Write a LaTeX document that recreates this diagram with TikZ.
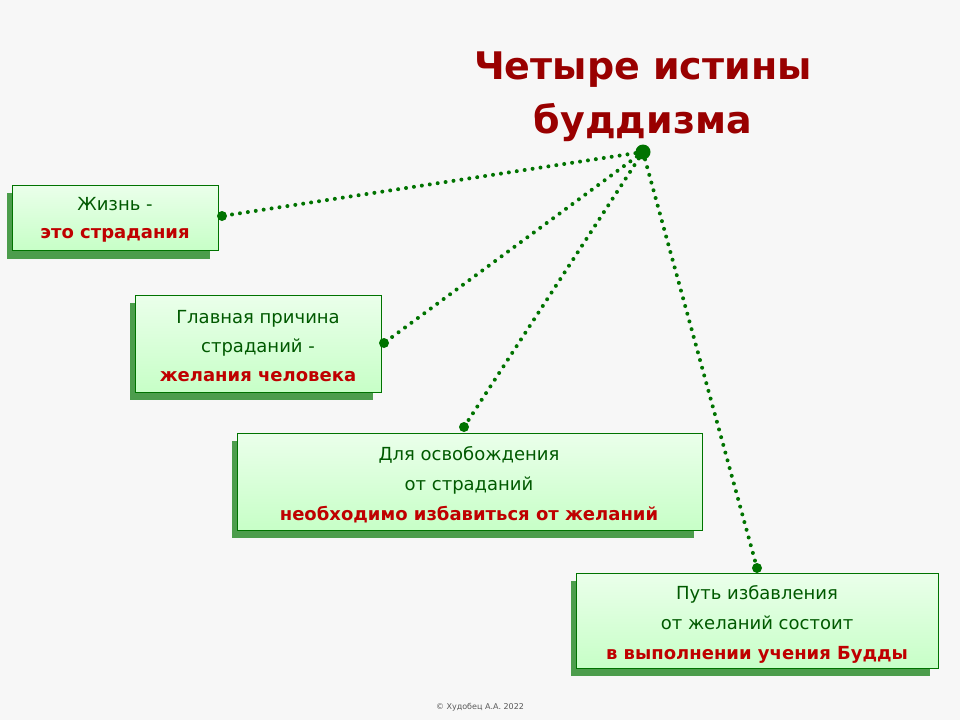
\documentclass[tikz,border=0pt]{standalone}
\usepackage{fontspec}
\setmainfont{DejaVu Sans}
\begin{document}
\begin{tikzpicture}[x=1pt,y=-1pt,
  boxst/.style={draw=green!45!black,line width=1pt,top color=green!8,bottom color=green!22,inner sep=0pt},
  shadowst/.style={fill=green!45!black!70},
  dotline/.style={dash pattern=on 0pt off 8pt,line width=4pt,green!45!black,line cap=round},
  hub/.style={circle,fill=green!45!black,inner sep=0pt,minimum size=15pt},
  endd/.style={circle,fill=green!45!black,inner sep=0pt,minimum size=10pt}]
\fill[gray!6] (0,0) rectangle (960,720);
\useasboundingbox (0,0) rectangle (960,720);
\node[font=\bfseries\fontsize{38}{54}\selectfont,text=red!60!black,align=center] (title) at (643,97) {Четыре истины\\буддизма};
% shadows
\fill[shadowst] (7,193) rectangle (210,259);
\fill[shadowst] (130,303) rectangle (373,400);
\fill[shadowst] (232,441) rectangle (694,538);
\fill[shadowst] (571,581) rectangle (930,676);
\fill[boxst] (12,185) rectangle (218,250);
\fill[boxst] (135,295) rectangle (381,392);
\fill[boxst] (237,433) rectangle (702,530);
\fill[boxst] (576,573) rectangle (938,668);
\draw[green!45!black,line width=1pt] (12,185) rectangle (218,250) (135,295) rectangle (381,392) (237,433) rectangle (702,530) (576,573) rectangle (938,668);
\node[font=\fontsize{18}{28}\selectfont,align=center] (b1) at (115,220) {\textcolor{green!35!black}{Жизнь -}\\\textcolor{red!75!black}{\bfseries это страдания}};
\node[font=\fontsize{18}{29}\selectfont,align=center] (b2) at (258,346) {\textcolor{green!35!black}{Главная причина}\\\textcolor{green!35!black}{страданий -}\\\textcolor{red!75!black}{\bfseries желания человека}};
\node[font=\fontsize{18}{30}\selectfont,align=center] (b3) at (469,485) {\textcolor{green!35!black}{Для освобождения}\\\textcolor{green!35!black}{от страданий}\\\textcolor{red!75!black}{\bfseries необходимо избавиться от желаний}};
\node[font=\fontsize{18}{30}\selectfont,align=center] (b4) at (757,624) {\textcolor{green!35!black}{Путь избавления}\\\textcolor{green!35!black}{от желаний состоит}\\\textcolor{red!75!black}{\bfseries в выполнении учения Будды}};
\node[hub] (h) at (643,152) {};
\node[endd] (e1) at (222,216) {};
\node[endd] (e2) at (384,343) {};
\node[endd] (e3) at (464,427) {};
\node[endd] (e4) at (757,568) {};
\draw[dotline] (h) -- (e1);
\draw[dotline] (h) -- (e2);
\draw[dotline] (h) -- (e3);
\draw[dotline] (h) -- (e4);
\node[font=\fontsize{8}{11}\selectfont,text=gray!70!black] (copy) at (480,707) {© Худобец А.А. 2022};
\end{tikzpicture}
\end{document}
